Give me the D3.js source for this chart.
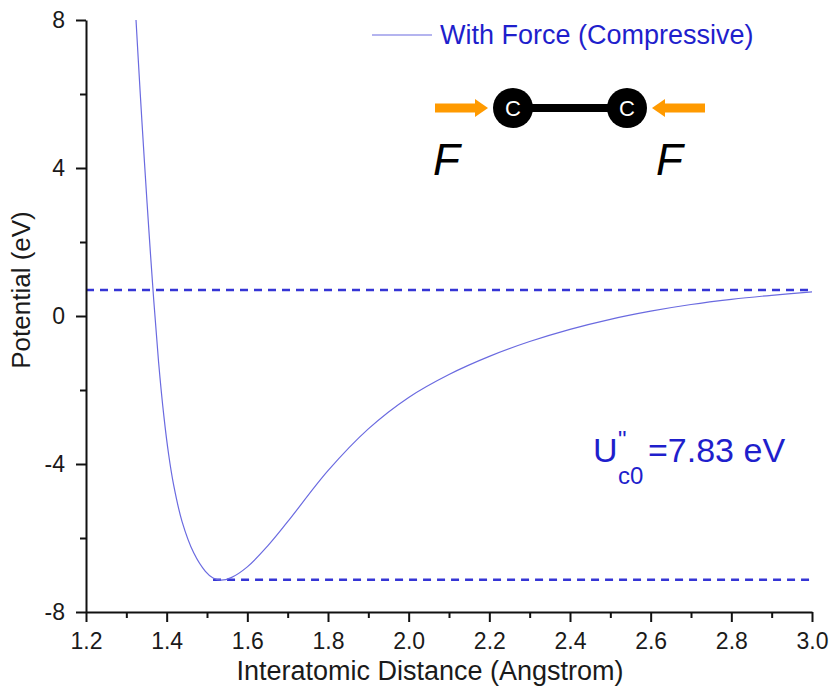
<!DOCTYPE html>
<html>
<head>
<meta charset="utf-8">
<script src="https://cdn.jsdelivr.net/npm/d3@7"></script>
<style>
  body { margin: 0; background: #fff; }
  svg { display: block; }
  text { font-family: "Liberation Sans", Arial, Helvetica, sans-serif; }
</style>
</head>
<body>
<svg id="chart" width="831" height="687"></svg>
<script>
// C–C interatomic potential under a compressive force
const distance = [1.324, 1.334, 1.345, 1.356, 1.368, 1.380, 1.393, 1.405, 1.417, 1.438,
                  1.467, 1.496, 1.515, 1.535, 1.560, 1.600, 1.650, 1.700, 1.800, 1.900,
                  2.000, 2.100, 2.200, 2.300, 2.400, 2.500, 2.600, 2.700, 2.800, 2.900, 3.000];
const potential = [8.00, 6.10, 4.15, 2.30, 0.42, -1.25, -2.70, -3.75, -4.55, -5.55,
                   -6.40, -6.90, -7.08, -7.14, -7.07, -6.78, -6.22, -5.56, -4.18, -3.05,
                   -2.20, -1.58, -1.09, -0.69, -0.36, -0.09, 0.13, 0.31, 0.45, 0.56, 0.65];

// Reference levels: well bottom and barrier top, separated by the stated U''c0
const barrierEnergy = 7.83;
const wellBottom = -7.13;
const levelValues = [wellBottom + barrierEnergy, wellBottom];
const levelStart = [1.2, 1.515];

const xMajorTicks = [1.2, 1.4, 1.6, 1.8, 2.0, 2.2, 2.4, 2.6, 2.8, 3.0];
const xMinorTicks = [1.3, 1.5, 1.7, 1.9, 2.1, 2.3, 2.5, 2.7, 2.9];
const yMajorTicks = [-8, -4, 0, 4, 8];
const yMinorTicks = [-6, -2, 2, 6];

const seriesName = "With Force (Compressive)";
const xTitle = "Interatomic Distance (Angstrom)";
const yTitle = "Potential (eV)";

const curveColor = "#6a6ae0";
const dashColor = "#3535d5";
const labelBlue = "#1f1fcc";
const axisColor = "#111";

const svg = d3.select("#chart");
const x = d3.scaleLinear().domain([1.2, 3.0]).range([86, 812]);
const y = d3.scaleLinear().domain([-8, 8]).range([612, 20]);

// dashed reference levels
svg.append("g").selectAll("line")
  .data(levelValues)
  .join("line")
  .attr("x1", (d, i) => x(levelStart[i]))
  .attr("x2", x(3.0))
  .attr("y1", d => y(d))
  .attr("y2", d => y(d))
  .attr("stroke", dashColor)
  .attr("stroke-width", 2.5)
  .attr("stroke-dasharray", "8,6");

// potential curve
const pts = distance.map((d, i) => [d, potential[i]]);
svg.append("path")
  .datum(pts)
  .attr("fill", "none")
  .attr("stroke", curveColor)
  .attr("stroke-width", 1.2)
  .attr("d", d3.line().x(d => x(d[0])).y(d => y(d[1])).curve(d3.curveCatmullRom.alpha(0.5)));

// axes
function styleAxis(g) {
  g.selectAll("path.domain").attr("stroke", axisColor).attr("stroke-width", 2);
  g.selectAll(".tick line").attr("stroke", axisColor).attr("stroke-width", 2);
  g.selectAll(".tick text").attr("fill", "#1a1a1a").attr("font-size", 23)
    .attr("font-family", "'Liberation Sans', Arial, sans-serif");
}

const xAxis = svg.append("g").attr("transform", `translate(0,${y(-8)})`)
  .call(d3.axisBottom(x).tickValues(xMajorTicks).tickFormat(d3.format(".1f"))
    .tickSize(10).tickSizeOuter(0).tickPadding(11));
styleAxis(xAxis);
const xMinor = svg.append("g").attr("transform", `translate(0,${y(-8)})`)
  .call(d3.axisBottom(x).tickValues(xMinorTicks).tickFormat("").tickSize(6).tickSizeOuter(0));
styleAxis(xMinor);
xMinor.select("path.domain").remove();

const yAxis = svg.append("g").attr("transform", `translate(${x(1.2)},0)`)
  .call(d3.axisLeft(y).tickValues(yMajorTicks).tickFormat(d => String(d))
    .tickSize(10).tickSizeOuter(0).tickPadding(11));
styleAxis(yAxis);
const yMinor = svg.append("g").attr("transform", `translate(${x(1.2)},0)`)
  .call(d3.axisLeft(y).tickValues(yMinorTicks).tickFormat("").tickSize(6).tickSizeOuter(0));
styleAxis(yMinor);
yMinor.select("path.domain").remove();

// axis titles
svg.append("text")
  .attr("x", 430).attr("y", 680)
  .attr("text-anchor", "middle")
  .attr("font-size", 27).attr("fill", "#1a1a1a")
  .text(xTitle);
svg.append("text")
  .attr("transform", "translate(30,290) rotate(-90)")
  .attr("text-anchor", "middle")
  .attr("font-size", 26).attr("fill", "#1a1a1a")
  .text(yTitle);

// legend
svg.append("line")
  .attr("x1", 372).attr("x2", 432).attr("y1", 35).attr("y2", 35)
  .attr("stroke", curveColor).attr("stroke-width", 1.2);
svg.append("text")
  .attr("x", 440).attr("y", 44)
  .attr("font-size", 27).attr("fill", labelBlue)
  .text(seriesName);

// molecule sketch: two carbon atoms pushed together
const mol = svg.append("g");
mol.append("line").attr("x1", 513).attr("x2", 627).attr("y1", 108).attr("y2", 108)
  .attr("stroke", "#000").attr("stroke-width", 8);
[513, 627].forEach(cx => {
  mol.append("circle").attr("cx", cx).attr("cy", 108).attr("r", 20).attr("fill", "#000");
  mol.append("text").attr("x", cx).attr("y", 116).attr("text-anchor", "middle")
    .attr("font-size", 22).attr("fill", "#fff").text("C");
});
const orange = "#ff9a00";
// left arrow pointing right
mol.append("rect").attr("x", 435).attr("y", 103.5).attr("width", 42).attr("height", 9).attr("fill", orange);
mol.append("polygon").attr("points", "475,99 488,108 475,117").attr("fill", orange);
// right arrow pointing left
mol.append("rect").attr("x", 663).attr("y", 103.5).attr("width", 42).attr("height", 9).attr("fill", orange);
mol.append("polygon").attr("points", "665,99 652,108 665,117").attr("fill", orange);
[433, 656].forEach(fx => {
  mol.append("text").attr("x", fx).attr("y", 175)
    .attr("font-size", 44).attr("font-style", "italic").attr("fill", "#000").text("F");
});

// barrier annotation: U with double prime and c0 subscript
const ann = svg.append("text").attr("fill", labelBlue);
ann.append("tspan").attr("x", 593).attr("y", 462).attr("font-size", 34).text("U");
ann.append("tspan").attr("x", 618).attr("y", 448).attr("font-size", 24).text("\u0022");
ann.append("tspan").attr("x", 618).attr("y", 484).attr("font-size", 24).text("c0");
ann.append("tspan").attr("x", 648).attr("y", 462).attr("font-size", 34)
  .text("=" + barrierEnergy.toFixed(2) + " eV");
</script>
</body>
</html>
